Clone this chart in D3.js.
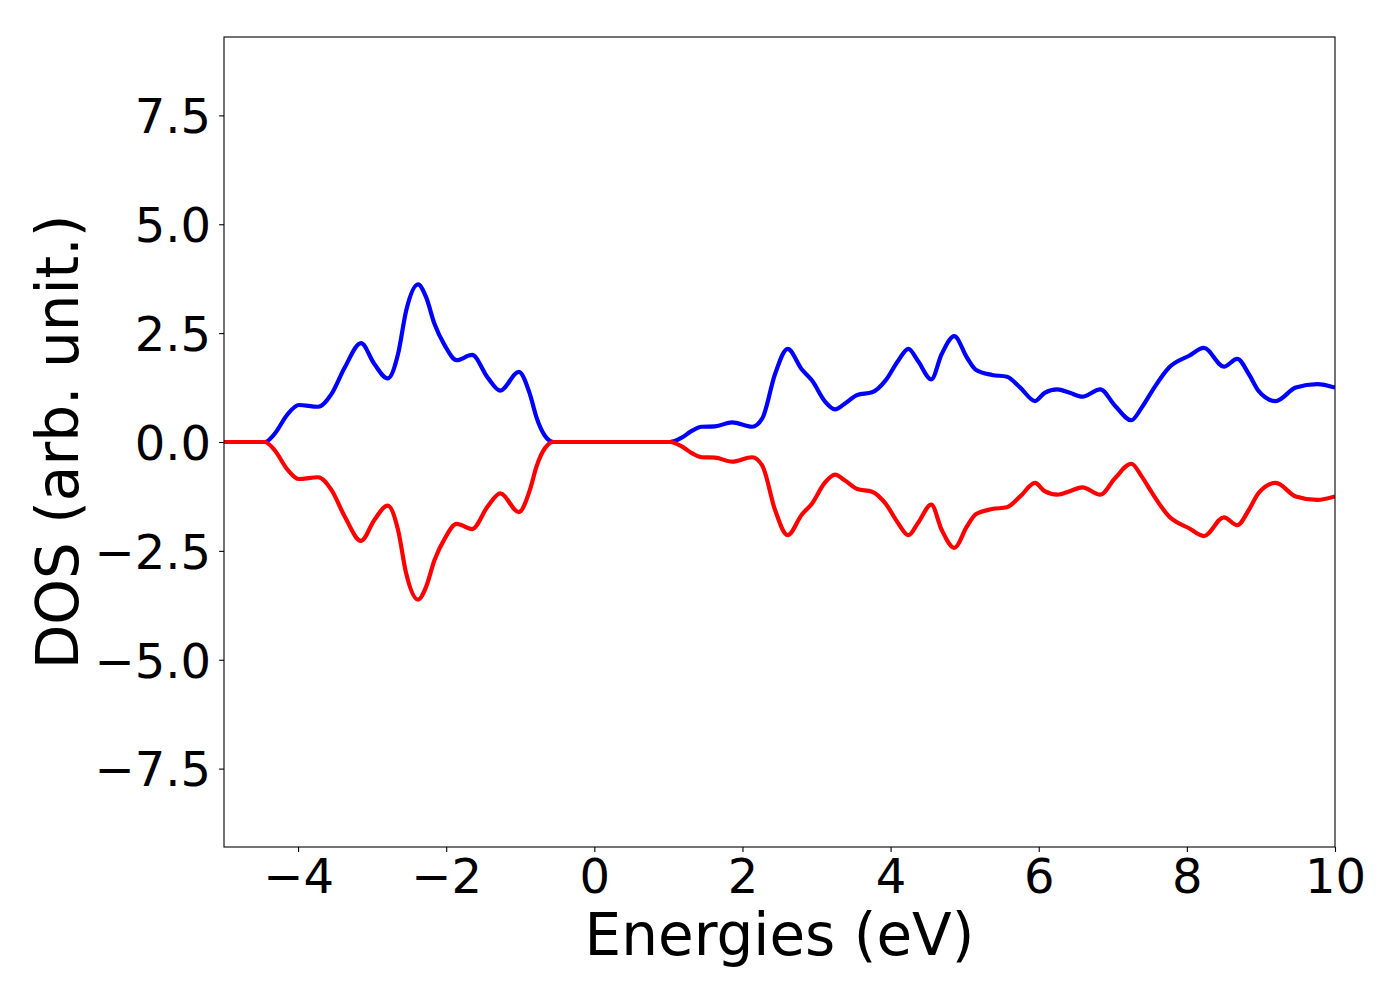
<!DOCTYPE html>
<html lang="en">
    <head>
        <meta charset="utf-8" />
        <title>DOS</title>
        <script src="https://cdnjs.cloudflare.com/ajax/libs/d3/7.8.5/d3.min.js"></script>
        <style>
            body { margin: 0; background: #fff; }
            svg text { font-family: "DejaVu Sans", sans-serif; fill: #000; }
        </style>
    </head>
    <body>
        <div class="graph"></div>
        <script>
    // energies (eV)
    const energies = [-5.0, -4.45, -4.32, -4.14, -3.99, -3.73, -3.55, -3.37, -3.15, -2.97, -2.79, -2.65, -2.54, -2.38, -2.27,
      -2.16, -2.02, -1.86, -1.65, -1.44, -1.27, -1.02, -0.87, -0.78, -0.67, -0.55, 0.0, 1.02, 1.18, 1.31, 1.45, 1.63, 1.86,
      2.13, 2.27, 2.44, 2.61, 2.80, 2.94, 3.11, 3.25, 3.38, 3.55, 3.75, 3.93, 4.10, 4.24, 4.37, 4.55, 4.69, 4.86, 5.03, 5.15,
      5.37, 5.57, 5.75, 5.95, 6.08, 6.25, 6.42, 6.59, 6.83, 7.03, 7.25, 7.39, 7.53, 7.76, 8.03, 8.23, 8.50, 8.68, 8.84, 8.97,
      9.20, 9.47, 9.76, 10.0];
    // spin up (blue)
    const dosUp = [0, 0, 0.18, 0.64, 0.85, 0.81, 1.10, 1.71, 2.27, 1.79, 1.46, 2.02, 3.02, 3.62, 3.32,
      2.72, 2.22, 1.88, 2.0, 1.48, 1.18, 1.61, 1.10, 0.56, 0.15, 0, 0, 0, 0.10, 0.25, 0.35, 0.36, 0.45,
      0.35, 0.55, 1.56, 2.14, 1.67, 1.41, 0.94, 0.75, 0.88, 1.08, 1.14, 1.41, 1.86, 2.14, 1.86, 1.44, 2.02, 2.43, 1.94, 1.66,
      1.54, 1.50, 1.25, 0.94, 1.13, 1.21, 1.13, 1.04, 1.21, 0.83, 0.50, 0.79, 1.17, 1.71, 1.98, 2.16, 1.73, 1.91, 1.55, 1.17,
      0.94, 1.25, 1.33, 1.25];
    // spin down (red)
    const dosDown = [0, 0, -0.18, -0.64, -0.85, -0.81, -1.10, -1.71, -2.27, -1.79, -1.46, -2.02, -3.02, -3.62, -3.32,
      -2.72, -2.22, -1.88, -2.0, -1.48, -1.18, -1.61, -1.10, -0.56, -0.15, 0, 0, 0, -0.10, -0.25, -0.35, -0.36, -0.45,
      -0.35, -0.55, -1.56, -2.14, -1.67, -1.41, -0.94, -0.75, -0.88, -1.08, -1.14, -1.41, -1.86, -2.14, -1.86, -1.44, -2.02, -2.43, -1.94, -1.66,
      -1.54, -1.50, -1.25, -0.94, -1.13, -1.21, -1.13, -1.04, -1.21, -0.83, -0.50, -0.79, -1.17, -1.71, -1.98, -2.16, -1.73, -1.91, -1.55, -1.17,
      -0.94, -1.25, -1.33, -1.25];
    const xTicks = [-4, -2, 0, 2, 4, 6, 8, 10];
    const yTicks = [-7.5, -5.0, -2.5, 0.0, 2.5, 5.0, 7.5];

    const w = 1400;
    const h = 1000;
    const padL = 224, padR = 1335, padT = 37, padB = 847;

    const svg = d3.select(".graph")
                  .append("svg")
                  .attr("width", w)
                  .attr("height", h);

    const xScale = d3.scaleLinear().domain([-5, 10]).range([padL, padR]);
    const yScale = d3.scaleLinear().domain([-9.3, 9.3]).range([padB, padT]);

    svg.append("clipPath").attr("id", "clip")
       .append("rect")
       .attr("x", padL).attr("y", padT)
       .attr("width", padR - padL).attr("height", padB - padT);

    const line = d3.line()
        .x((d, i) => xScale(energies[i]))
        .y(d => yScale(d))
        .curve(d3.curveMonotoneX);

    // blue first, red drawn over it
    svg.append("path")
       .attr("d", line(dosUp))
       .attr("clip-path", "url(#clip)")
       .attr("fill", "none")
       .attr("stroke", "#0000ff")
       .attr("stroke-width", 4.2);
    svg.append("path")
       .attr("d", line(dosDown))
       .attr("clip-path", "url(#clip)")
       .attr("fill", "none")
       .attr("stroke", "#ff0000")
       .attr("stroke-width", 4.2);

    const xAxis = d3.axisBottom(xScale)
        .tickValues(xTicks)
        .tickSizeOuter(0)
        .tickSize(4.9)
        .tickPadding(7)
        .tickFormat(d3.format("d"));
    const gx = svg.append("g")
       .attr("transform", "translate(0," + padB + ")")
       .call(xAxis);

    const yAxis = d3.axisLeft(yScale)
        .tickValues(yTicks)
        .tickSizeOuter(0)
        .tickSize(4.9)
        .tickPadding(8)
        .tickFormat(d3.format(".1f"));
    const gy = svg.append("g")
       .attr("transform", "translate(" + padL + ",0)")
       .call(yAxis);

    [gx, gy].forEach(g => {
      g.select(".domain").remove();
      g.selectAll(".tick line").attr("stroke", "#000").attr("stroke-width", 1.1);
      g.selectAll(".tick text")
       .attr("font-family", "DejaVu Sans")
       .attr("font-size", 48);
    });
    gy.selectAll(".tick text").attr("dy", "0.36em");

    // frame
    svg.append("rect")
       .attr("x", padL).attr("y", padT)
       .attr("width", padR - padL).attr("height", padB - padT)
       .attr("fill", "none")
       .attr("stroke", "#000")
       .attr("stroke-width", 1.1);

    svg.append("text")
       .attr("x", (padL + padR) / 2)
       .attr("y", 955)
       .attr("text-anchor", "middle")
       .attr("font-size", 58)
       .text("Energies (eV)");

    svg.append("text")
       .attr("transform", "translate(78," + ((padT + padB) / 2) + ") rotate(-90)")
       .attr("text-anchor", "middle")
       .attr("font-size", 58)
       .text("DOS (arb. unit.)");
        </script>
    </body>
</html>
